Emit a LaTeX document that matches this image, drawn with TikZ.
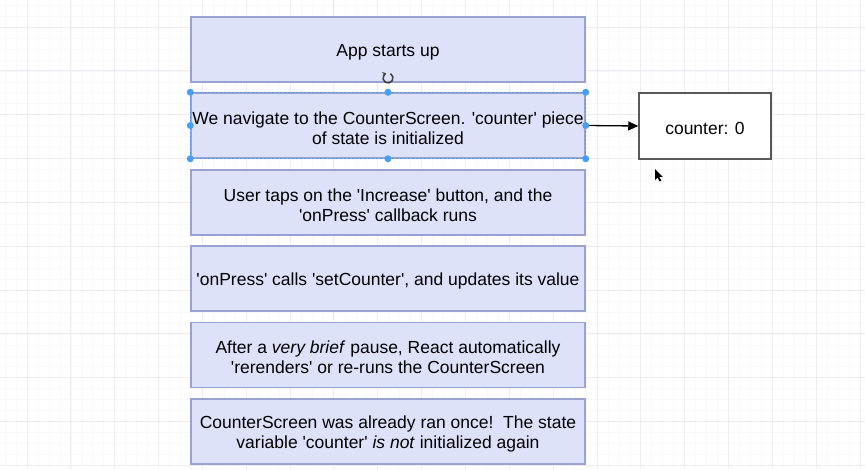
\documentclass[tikz,border=0pt]{standalone}
\usepackage{fontspec}
\setmainfont{Liberation Sans}[Ligatures=TeXOff]
\usetikzlibrary{arrows.meta}
\definecolor{stepfill}{HTML}{DDE1FA}
\definecolor{stepline}{HTML}{9AA2D2}
\definecolor{selblue}{HTML}{4A9EF2}
\definecolor{gridmajor}{HTML}{EFEBF1}
\definecolor{gridminor}{HTML}{F8F7FA}
\newcommand\topgap{\rule{0pt}{17.5pt}}

\begin{document}
\begin{tikzpicture}[x=1pt,y=-1pt,
  stepbox/.style={rectangle,draw=stepline,fill=stepfill,line width=1.5pt,
    minimum width=394pt,minimum height=65pt,align=center,inner sep=0pt,
    font=\fontsize{17.5}{20}\selectfont},
  valuebox/.style={rectangle,draw=black!65,fill=white,line width=1.5pt,
    minimum width=132pt,minimum height=66pt,font=\fontsize{17.5}{20}\selectfont},
  handle/.style={circle,fill=selblue,inner sep=0pt,minimum size=7pt}]
  \useasboundingbox (0,0) rectangle (865,469);
  \fill[white] (0,0) rectangle (865,469);
  % background grid
  \foreach \i in {-2,...,76} \draw[gridminor,line width=0.6pt] (27+\i*10.96,0) -- ++(0,469);
  \foreach \j in {-2,...,41} \draw[gridminor,line width=0.6pt] (0,27+\j*10.96) -- ++(865,0);
  \foreach \i in {-1,...,19} \draw[gridmajor,line width=1pt] (27+\i*43.85,0) -- ++(0,469);
  \foreach \j in {-1,...,10} \draw[gridmajor,line width=1pt] (0,27+\j*43.85) -- ++(865,0);
  % steps
  \node[stepbox] (start) at (388,49.5) {\topgap App starts up};
  \node[stepbox] (navigate) at (388,125.5)
        {\topgap We navigate to the CounterScreen. 'counter' piece\\of state is initialized};
  \node[stepbox] (tap) at (388,202.5)
        {\topgap User taps on the 'Increase' button, and the\\'onPress' callback runs};
  \node[stepbox] (setter) at (388,278.5)
        {\topgap 'onPress' calls 'setCounter', and updates its value};
  \node[stepbox] (rerender) at (388,355)
        {\topgap After a \textit{very brief} pause, React automatically\\'rerenders' or re-runs the CounterScreen};
  \node[stepbox] (again) at (388,431.5)
        {\topgap CounterScreen was already ran once!\ \ The state\\variable 'counter' \textit{is not} initialized again};
  \node[valuebox] (counter) at (705,126) {\topgap counter: 0};
  \draw[-{Triangle[length=10pt,width=9pt]},line width=1.3pt] (navigate.east) -- (counter.west);
  % selection of the second step
  \draw[selblue!80!gray,line width=1pt,dash pattern=on 2pt off 2pt]
        (navigate.north west) rectangle (navigate.south east);
  \foreach \a in {north west,north,north east,west,east,south west,south,south east}
    \node[handle] (h-\a) at (navigate.\a) {};
  \coordinate (rot) at (388,78);
  \draw[black!75,line width=1.5pt,-{Stealth[length=3.5pt,width=5pt]}]
        (rot) ++(-60:5) arc[start angle=-60,end angle=250,radius=5];
  % mouse pointer
  \coordinate (tip) at (655,169);
  \fill[black] (tip) -- ++(0,11) -- ++(2.5,-2.5) -- ++(2,4) -- ++(1.8,-0.9)
        -- ++(-2,-3.8) -- ++(3.4,0) -- cycle;
\end{tikzpicture}
\end{document}
